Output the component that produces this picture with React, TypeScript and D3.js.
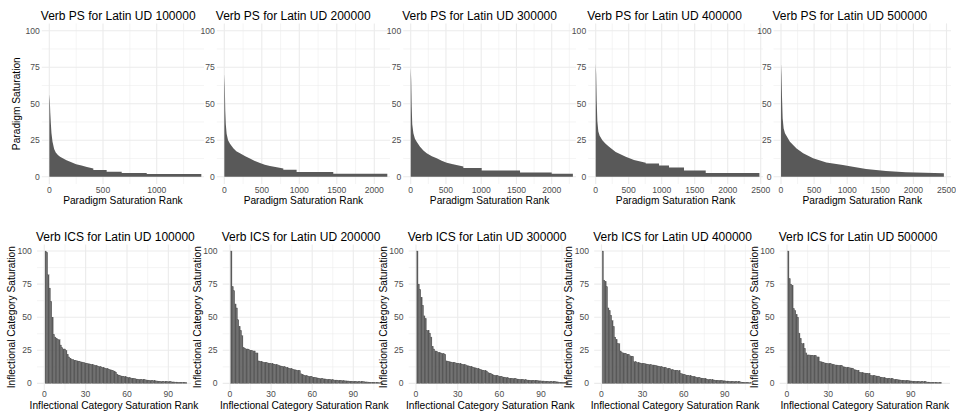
import React from 'react';
import * as d3 from 'd3';

// ---------- data ----------
const corpusSizes = ['100000', '200000', '300000', '400000', '500000'];

// Paradigm Saturation (PS): rank breakpoints and values
const psRank100k = [1, 5, 9, 14, 20, 30, 45, 60, 80, 100, 130, 160, 200, 250, 300, 350, 410, 410, 534, 534, 674, 674, 907, 907, 1415];
const psVal100k = [56, 52, 44, 37, 30, 24, 19, 16.5, 14.8, 13.6, 12.4, 11.3, 10, 8.6, 7.6, 6.6, 5.6, 4.6, 4.6, 3.4, 3.4, 2.5, 2.5, 1.8, 1.8];

const psRank200k = [1, 7, 13, 20, 31, 50, 76, 120, 160, 209, 280, 342, 400, 476, 540, 609, 700, 787, 787, 964, 964, 1453, 1453, 2173];
const psVal200k = [70, 62, 45, 36, 29.5, 25, 22.5, 19.5, 17.5, 16, 14, 12.5, 11, 9.3, 8.2, 7.4, 6.5, 5.7, 4.8, 4.8, 3.3, 3.3, 2.0, 2.0];

const psRank300k = [1, 7, 14, 22, 38, 60, 85, 132, 180, 227, 300, 369, 440, 511, 600, 747, 747, 1007, 1007, 1551, 1551, 2000, 2000, 2300];
const psVal300k = [74, 66, 48, 36, 29.7, 26, 24, 20.5, 18, 16, 14, 12.6, 11, 9.6, 8.5, 7, 5.9, 5.9, 4.2, 4.2, 2.8, 2.8, 2.1, 2.1];

const psRank400k = [1, 7, 15, 25, 40, 60, 101, 150, 202, 303, 455, 580, 758, 758, 960, 960, 1111, 1111, 1338, 1338, 1667, 1667, 2480];
const psVal400k = [77, 70, 52, 38, 31, 28, 25, 22.5, 20.5, 17, 13.7, 11.5, 9.6, 9.1, 9.1, 7.6, 7.6, 6.3, 6.3, 4.2, 4.2, 2.6, 2.6];

const psRank500k = [1, 7, 15, 25, 40, 60, 135, 235, 335, 485, 685, 935, 1085, 1285, 1585, 1885, 2460];
const psVal500k = [77, 70, 55, 40, 33, 29.7, 24, 19.4, 16, 12.6, 9.8, 8, 6.8, 5.2, 3.9, 3, 2.3];

// Inflectional Category Saturation (ICS): one value per rank
const ics100k = [
  100, 99, 82, 72, 62, 50, 37, 35, 34, 33,
  33, 29, 27, 26, 26, 25, 22, 20, 19, 18,
  18, 17.5, 17.2, 17, 16.8, 16.5, 16.2, 16, 15.7, 15.4,
  15.1, 14.9, 14.7, 14.5, 14.2, 14, 13.7, 13.4, 13.1, 12.8,
  12.5, 12.2, 11.9, 11.6, 11.3, 11, 10.6, 10.3, 10, 9.7,
  9.3, 8.5, 7, 6.3, 5.9, 5.6, 5.4, 5.2, 5, 4.8,
  4.5, 4.3, 4.1, 3.9, 3.7, 3.5, 3.3, 3.2, 3.1, 3.0,
  2.9, 2.8, 2.7, 2.6, 2.5, 2.4, 2.3, 2.2, 2.1, 2.0,
  1.9, 1.8, 1.7, 1.6, 1.5, 1.5, 1.4, 1.4, 1.3, 1.3,
  1.2, 1.2, 1.1, 1.1, 1.0, 1.0, 0.9, 0.9, 0.8, 0.8,
  0.7, 0.7, 0.6,
];
const ics200k = [
  100, 73, 70, 60, 57, 48, 43, 40, 36, 27,
  26.5, 26, 26, 25.5, 25, 25, 24.5, 24.5, 23, 23,
  17, 16.8, 16.5, 16.2, 16, 15.8, 15.6, 15.4, 15.2, 15,
  14.8, 14.6, 14.4, 14.2, 14, 13.6, 13.2, 13, 12.8, 12.5,
  12.2, 11.8, 11.5, 11.2, 11, 10.7, 10.4, 10.2, 10, 9.8,
  9.5, 7.2, 6.8, 6.3, 6, 5.8, 5.6, 5.4, 5.2, 5,
  4.7, 4.5, 4.3, 4.1, 3.9, 3.7, 3.6, 3.5, 3.4, 3.3,
  3.1, 3, 2.9, 2.8, 2.7, 2.6, 2.5, 2.5, 2.4, 2.3,
  2.2, 2.1, 2, 1.9, 1.9, 1.8, 1.8, 1.7, 1.7, 1.6,
  1.5, 1.5, 1.4, 1.4, 1.3, 1.3, 1.2, 1.2, 1.1, 1.1,
  1.0, 0.9, 0.9, 0.8, 0.8, 0.7, 0.7, 0.6, 0.5, 0.5, 0.4,
];
const ics300k = [
  100, 75, 71, 65, 59, 51, 49, 40, 40, 38,
  35, 28, 26, 24.5, 24.3, 23.5, 23.2, 23, 22.7, 22.4,
  22, 17, 16.8, 16.5, 16.2, 16, 15.8, 15.6, 15.4, 15.2,
  15, 14.8, 14.6, 14.4, 14.2, 14, 13.5, 13.2, 13, 12.6,
  12.3, 12, 11.7, 11.4, 11.1, 10.7, 10.3, 10, 9.8, 9.6,
  9.3, 8.2, 7.8, 7.4, 7, 6.3, 6.1, 5.9, 5.7, 5.5,
  5.3, 5.1, 4.8, 4.6, 4.4, 4.2, 4, 3.9, 3.8, 3.7,
  3.6, 3.5, 3.3, 3.2, 3.1, 3, 2.9, 2.8, 2.7, 2.6,
  2.5, 2.4, 2.4, 2.3, 2.3, 2.2, 2.1, 2, 1.9, 1.9,
  1.8, 1.8, 1.7, 1.7, 1.6, 1.5, 1.5, 1.4, 1.4, 1.3,
  1.2, 1.1, 1.0, 0.9, 0.9, 0.8, 0.7, 0.7, 0.6,
];
const ics400k = [
  100, 78, 77, 73, 57, 55, 51.5, 47.5, 43, 35,
  33, 30, 30, 24.5, 23.2, 23, 22.8, 22.5, 22, 22,
  20.8, 20.6, 20.4, 16.3, 16.3, 15.8, 15.6, 15.5, 15.3, 15.2,
  15, 14.8, 14.6, 14.4, 14.3, 14.2, 14, 13.9, 13.8, 13.5,
  13.2, 13, 12.8, 12.5, 12.3, 12.1, 12, 11.3, 11.3, 11.2,
  10.5, 10.3, 10.1, 10, 9.8, 9.6, 9.5, 7.5, 7.2, 6.9,
  6.6, 6.3, 6.1, 5.9, 5.7, 5.5, 5.4, 5.0, 4.8, 4.6,
  4.4, 4.2, 4.0, 3.9, 3.8, 3.6, 3.2, 3.0, 2.9, 2.8,
  2.7, 2.6, 2.5, 2.4, 2.3, 2.3, 2.1, 2.0, 2.0, 1.9,
  1.8, 1.8, 1.7, 1.6, 1.6, 1.5, 1.5, 1.4, 1.3, 1.3,
  1.2, 1.0, 0.9, 0.9, 0.8, 0.7, 0.7, 0.6, 0.6,
];
const ics500k = [
  100, 79, 75, 74, 56.5, 55, 52, 50, 38, 34,
  30, 30, 26.5, 23, 21.5, 21.5, 21.4, 21.3, 21.2, 21.1,
  21, 20, 20, 16.3, 16.3, 16, 15.6, 15.4, 15.2, 15,
  14.9, 14.8, 14.6, 14.2, 14, 13.9, 13.8, 13.7, 13.6, 13.5,
  12.6, 12.4, 12.2, 12, 11.9, 11.7, 11.6, 11.5, 10.5, 10.2,
  10, 9.8, 8.5, 8.3, 8.1, 7.9, 7.8, 7.7, 7.6, 7.5,
  6, 5.9, 5.8, 5.7, 5.6, 5.5, 5.5, 4.8, 4.6, 4.4,
  4.2, 4.0, 3.9, 3.8, 3.6, 3.5, 3.5, 3.0, 2.9, 2.8,
  2.7, 2.6, 2.5, 2.4, 2.3, 2.2, 2.1, 2.0, 2.0, 1.8,
  1.8, 1.7, 1.7, 1.6, 1.5, 1.5, 1.4, 1.4, 1.3, 1.2,
  1.2, 1.0, 1.0, 0.9, 0.9, 0.8, 0.8, 0.7, 0.7, 0.6, 0.6, 0.6,
];

const yTicks = [0, 25, 50, 75, 100];
const yMinor = [12.5, 37.5, 62.5, 87.5];

const psRanks = [psRank100k, psRank200k, psRank300k, psRank400k, psRank500k];
const psVals = [psVal100k, psVal200k, psVal300k, psVal400k, psVal500k];
const icsVals = [ics100k, ics200k, ics300k, ics400k, ics500k];

// ---------- layout (pixels) ----------
const topLayout = [
  { x0: 49.3, k: 0.1074, right: 204 },
  { x0: 224.3, k: 0.075, right: 390 },
  { x0: 410.7, k: 0.0705, right: 576 },
  { x0: 595.7, k: 0.066, right: 763 },
  { x0: 781, k: 0.0662, right: 951 },
];
const botLayout = [
  { x0: 44.3, k: 1.378, right: 191 },
  { x0: 230, k: 1.37, right: 386 },
  { x0: 416, k: 1.39, right: 572 },
  { x0: 601.5, k: 1.37, right: 756 },
  { x0: 787, k: 1.375, right: 950 },
];

const FONT = "'Liberation Sans', Arial, Helvetica, sans-serif";
const BAR = '#595959';
const GRID = '#ebebeb';
const TICK = '#4d4d4d';

type RowCfg = {
  yTop: number; yBot: number; titleY: number; tickY: number; axisTitleY: number;
  padLeft: number; labelGap: number; step: number;
};
const topRow: RowCfg = { yTop: 23.4, yBot: 184, titleY: 19.5, tickY: 193, axisTitleY: 204, padLeft: 7.5, labelGap: 9.5, step: 500 };
const botRow: RowCfg = { yTop: 244.4, yBot: 390, titleY: 240.5, tickY: 397.3, axisTitleY: 409, padLeft: 7.3, labelGap: 12.5, step: 30 };

function Panel(props: {
  cfg: RowCfg; lay: { x0: number; k: number; right: number };
  title: string; xTitle: string; yTitle?: string;
  children: (x: d3.ScaleLinear<number, number>, y: d3.ScaleLinear<number, number>) => React.ReactNode;
}) {
  const { cfg, lay } = props;
  const left = lay.x0 - cfg.padLeft;
  const right = lay.right;
  const x = d3.scaleLinear().domain([(left - lay.x0) / lay.k, (right - lay.x0) / lay.k]).range([left, right]);
  const y = d3.scaleLinear().domain([-5, 105]).range([cfg.yBot, cfg.yTop]);
  const [dmin, dmax] = x.domain();
  const major = d3.range(0, dmax + 1e-6, cfg.step).filter((v) => v >= dmin);
  const minor = d3.range(cfg.step / 2, dmax, cfg.step).filter((v) => v >= dmin);
  const cx = (left + right) / 2;
  const cy = (cfg.yTop + cfg.yBot) / 2;
  return (
    <g>
      {yMinor.map((v) => (
        <line key={'ym' + v} x1={left} x2={right} y1={y(v)} y2={y(v)} stroke={GRID} strokeWidth={0.55} />
      ))}
      {minor.map((v) => (
        <line key={'xm' + v} x1={x(v)} x2={x(v)} y1={cfg.yTop} y2={cfg.yBot} stroke={GRID} strokeWidth={0.55} />
      ))}
      {yTicks.map((v) => (
        <line key={'yM' + v} x1={left} x2={right} y1={y(v)} y2={y(v)} stroke={GRID} strokeWidth={1.1} />
      ))}
      {major.map((v) => (
        <line key={'xM' + v} x1={x(v)} x2={x(v)} y1={cfg.yTop} y2={cfg.yBot} stroke={GRID} strokeWidth={1.1} />
      ))}
      {props.children(x, y)}
      {yTicks.map((v) => (
        <text key={'yl' + v} x={lay.x0 - cfg.labelGap} y={y(v) + 3.1} textAnchor="end" fontSize={8.6} fill={TICK}>
          {v}
        </text>
      ))}
      {major.map((v) => (
        <text key={'xl' + v} x={x(v)} y={cfg.tickY} textAnchor="middle" fontSize={8.6} fill={TICK}>
          {v}
        </text>
      ))}
      <text x={left - 1} y={cfg.titleY} fontSize={12} fill="#000">{props.title}</text>
      <text x={cx} y={cfg.axisTitleY} textAnchor="middle" fontSize={10.2} fill="#000">{props.xTitle}</text>
      {props.yTitle ? (
        <text transform={`translate(${lay.x0 - 29.5},${cy}) rotate(-90)`} textAnchor="middle" fontSize={10.2} fill="#000">
          {props.yTitle}
        </text>
      ) : null}
    </g>
  );
}

export default function App() {
  return (
    <svg width={956} height={414} viewBox="0 0 956 414"
      style={{ position: 'absolute', left: 0, top: 0, background: '#fff', fontFamily: FONT }}>
      <rect x={0} y={0} width={956} height={414} fill="#fff" />
      {corpusSizes.map((sz, i) => (
        <Panel key={'ps' + sz} cfg={topRow} lay={topLayout[i]}
          title={`Verb PS for Latin UD ${sz}`} xTitle="Paradigm Saturation Rank"
          yTitle={i === 0 ? 'Paradigm Saturation' : undefined}>
          {(x, y) => {
            const r = psRanks[i];
            const v = psVals[i];
            const pts: [number, number][] = [[0.55, v[0]]];
            r.forEach((rk, j) => pts.push([rk, v[j]]));
            pts.push([r[r.length - 1] + 0.45, v[v.length - 1]]);
            const area = d3.area<[number, number]>()
              .x((d) => x(d[0]))
              .y0(y(0))
              .y1((d) => y(d[1]));
            return <path d={area(pts) || ''} fill={BAR} />;
          }}
        </Panel>
      ))}
      {corpusSizes.map((sz, i) => (
        <Panel key={'ics' + sz} cfg={botRow} lay={botLayout[i]}
          title={`Verb ICS for Latin UD ${sz}`} xTitle="Inflectional Category Saturation Rank"
          yTitle="Inflectional Category Saturation">
          {(x, y) => (
            <g>
              {icsVals[i].map((val, j) => {
                const rk = j + 1;
                return (
                  <rect key={j} x={x(rk - 0.45)} width={x(rk + 0.45) - x(rk - 0.45)}
                    y={y(val)} height={y(0) - y(val)} fill={BAR} stroke={BAR} strokeWidth={0.3} />
                );
              })}
            </g>
          )}
        </Panel>
      ))}
    </svg>
  );
}
